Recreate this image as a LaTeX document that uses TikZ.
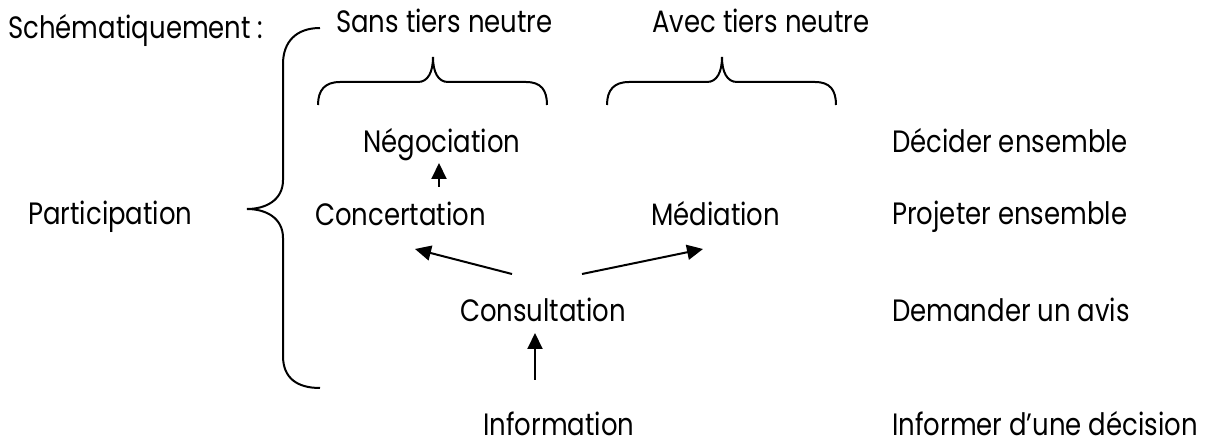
\documentclass[tikz,border=0pt]{standalone}
\usepackage{fontspec}
\setmainfont{Poppins}[FakeStretch=0.84]
\usetikzlibrary{arrows.meta,calc}
\tikzset{
  lbl/.style={anchor=base west, inner sep=0pt, font=\fontsize{31}{36}\selectfont},
  link/.style={line width=2bp, -{Triangle[length=16bp,width=15bp]}},
  bracepath/.style={line width=2bp},
  smallbrace/.pic={
    \draw[bracepath] (0,23) .. controls (0,8) and (7,0) .. (22,0) -- (100,0)
      .. controls (110,0) and (115,-10) .. (115,-25)
      .. controls (115,-10) and (120,0) .. (130,0) -- (208,0)
      .. controls (223,0) and (229,8) .. (229,23);
  }
}
\begin{document}
\begin{tikzpicture}[x=1bp,y=-1bp]
\useasboundingbox (0,0) rectangle (1211,447);
% texts
\node[lbl] (schema) at (8,39) {Schématiquement :};
\node[lbl] (sans) at (336,33) {Sans tiers neutre};
\node[lbl] (avec) at (652,33) {Avec tiers neutre};
\node[lbl] (particip) at (28,225) {Participation};
\node[lbl] (nego) at (363,153) {Négociation};
\node[lbl] (concert) at (315,226) {Concertation};
\node[lbl] (media) at (651,226) {Médiation};
\node[lbl] (consult) at (460,322) {Consultation};
\node[lbl] (info) at (483,436) {Information};
\node[lbl] (decider) at (892,153) {Décider ensemble};
\node[lbl] (projeter) at (892,225) {Projeter ensemble};
\node[lbl] (demander) at (892,322) {Demander un avis};
\node[lbl] (informer) at (892,436) {Informer d’une décision};
% big brace
\draw[bracepath] (320,28) .. controls (296,28) and (283,42) .. (283,64)
  -- (283,180) .. controls (283,200) and (266,209) .. (247,209)
  .. controls (266,209) and (283,218) .. (283,238)
  -- (283,356) .. controls (283,378) and (297,388) .. (320,388);
% small braces
\pic at (318,82) {smallbrace};
\pic at (607,82) {smallbrace};
% arrows
\draw[link] ($(concert.base west)+(124,-39)$) -- ($(nego.base west)+(76,10)$);
\draw[link] ($(consult.base west)+(52,-48)$) -- ($(concert.base west)+(100,23)$);
\draw[link] ($(consult.base west)+(122,-48)$) -- ($(media.base west)+(52,23)$);
\draw[link] ($(info.base west)+(52,-56)$) -- ($(consult.base west)+(75,11)$);
\end{tikzpicture}
\end{document}
